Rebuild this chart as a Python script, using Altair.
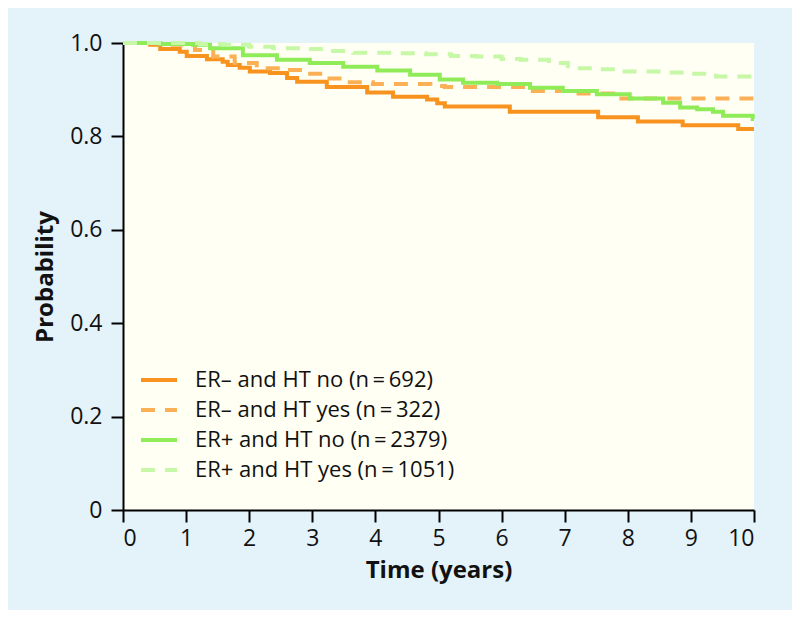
import altair as alt
import pandas as pd

groups = [
    "ER\u2013 and HT no (n\u2009=\u2009692)",
    "ER\u2013 and HT yes (n\u2009=\u2009322)",
    "ER+ and HT no (n\u2009=\u20092379)",
    "ER+ and HT yes (n\u2009=\u20091051)",
]
colors = ["#f7931e", "#fbb056", "#8fec58", "#c6f8a8"]
dashes = [[1, 0], [14, 10], [1, 0], [14, 10]]

# ER- and HT no
t_erneg_no = [0, 0.43, 0.59, 0.90, 1.01, 1.33, 1.58, 1.66, 1.85, 2.01, 2.33, 2.60, 2.76,
              3.23, 3.87, 4.28, 4.82, 4.98, 5.10, 6.13, 7.53, 8.16, 8.87, 9.75, 10]
p_erneg_no = [1.0, 0.996, 0.987, 0.981, 0.972, 0.965, 0.960, 0.953, 0.947, 0.939, 0.936, 0.925, 0.917,
              0.906, 0.894, 0.885, 0.879, 0.871, 0.864, 0.853, 0.841, 0.832, 0.824, 0.816, 0.816]

# ER- and HT yes
t_erneg_yes = [0, 0.79, 1.14, 1.43, 1.77, 2.12, 2.49, 2.85, 3.23, 3.55, 3.96, 4.87, 5.10,
               6.34, 7.13, 7.77, 10]
p_erneg_yes = [1.0, 0.996, 0.985, 0.971, 0.957, 0.946, 0.942, 0.934, 0.924, 0.916, 0.912, 0.908, 0.906,
               0.897, 0.892, 0.881, 0.881]

# ER+ and HT no
t_erpos_no = [0, 0.59, 1.11, 1.38, 1.90, 2.44, 2.96, 3.49, 4.03, 4.55, 5.02, 5.39, 5.93,
              6.45, 6.97, 7.51, 8.03, 8.56, 8.83, 9.10, 9.35, 9.51, 9.98, 10]
p_erpos_no = [1.0, 0.998, 0.996, 0.989, 0.974, 0.964, 0.957, 0.949, 0.941, 0.932, 0.922, 0.915, 0.912,
              0.904, 0.897, 0.890, 0.881, 0.872, 0.862, 0.858, 0.853, 0.844, 0.837, 0.837]

# ER+ and HT yes
t_erpos_yes = [0, 1.22, 1.59, 2.00, 2.38, 2.85, 3.23, 3.65, 4.30, 4.80, 5.10, 5.20, 5.60, 6.00,
               6.30, 6.75, 7.05, 7.45, 7.85, 8.30, 8.65, 9.00, 9.40, 10]
p_erpos_yes = [1.0, 0.998, 0.996, 0.992, 0.989, 0.987, 0.983, 0.979, 0.978, 0.976, 0.976, 0.972, 0.971, 0.966,
               0.964, 0.957, 0.946, 0.944, 0.939, 0.939, 0.937, 0.934, 0.928, 0.928]

x_ticks = list(range(0, 11))
y_ticks = [0, 0.2, 0.4, 0.6, 0.8, 1.0]

series = [
    (groups[0], t_erneg_no, p_erneg_no),
    (groups[1], t_erneg_yes, p_erneg_yes),
    (groups[2], t_erpos_no, p_erpos_no),
    (groups[3], t_erpos_yes, p_erpos_yes),
]
rows = []
for g, ts, ps in series:
    for t, p in zip(ts, ps):
        rows.append({"group": g, "t": t, "p": p})
df = pd.DataFrame(rows)

font = "Open Sans"

chart = alt.Chart(df).mark_line(interpolate="step-after", strokeWidth=4).encode(
    x=alt.X("t:Q", title="Time (years)",
            scale=alt.Scale(domain=[0, 10], nice=False, zero=False),
            axis=alt.Axis(values=x_ticks, format="d")),
    y=alt.Y("p:Q", title="Probability",
            scale=alt.Scale(domain=[0, 1], nice=False),
            axis=alt.Axis(values=y_ticks,
                          labelExpr="datum.value == 0 ? '0' : format(datum.value, '.1f')")),
    color=alt.Color("group:N", scale=alt.Scale(domain=groups, range=colors),
                    legend=alt.Legend(title=None, orient="none", legendX=25, legendY=326,
                                      symbolType="M-2,0H2", symbolSize=324,
                                      symbolStrokeWidth=4, labelFontSize=22,
                                      labelFont=font, labelColor="#111", labelLimit=0,
                                      labelOffset=25, rowPadding=8, padding=0)),
    strokeDash=alt.StrokeDash("group:N", scale=alt.Scale(domain=groups, range=dashes), legend=None),
    detail="group:N",
).properties(
    width=631, height=467,
    autosize=alt.AutoSizeParams(type="none"),
    padding={"left": 115, "top": 35, "right": 38, "bottom": 100},
    background="#e4f3f9",
).configure_view(
    fill="#fffff4", stroke=None
).configure_axis(
    grid=False, domainColor="#000", domainWidth=2, tickColor="#000", tickWidth=2,
    tickSize=12, labelFontSize=23, labelFont=font, labelColor="#111",
    titleFont=font, titleFontSize=24, titleFontWeight="bold", titleColor="#111",
).configure_axisY(
    titlePadding=12, labelPadding=9
).configure_axisX(
    titlePadding=8, labelPadding=5
)

chart.save("out.html", embed_options={"renderer": "svg", "actions": False})
